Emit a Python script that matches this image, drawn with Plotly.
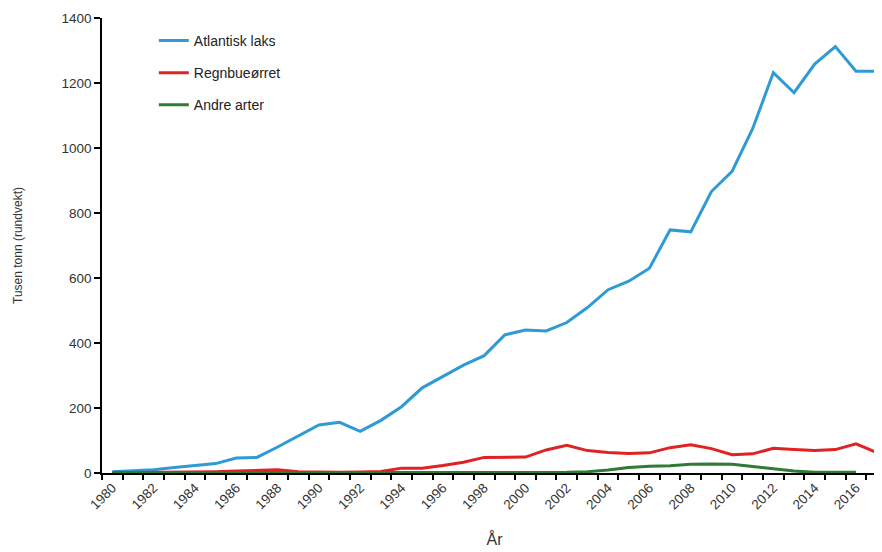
import plotly.graph_objects as go

years = list(range(1980, 2018))
atlantisk_laks = [4, 8, 10, 17, 22, 29, 46, 48, 80, 115, 148, 156, 128, 162, 204, 262, 297, 332, 361, 425, 440, 437, 463, 509, 564, 590, 630, 748, 742, 866, 928, 1060, 1232, 1170, 1258, 1312, 1236, 1236]
regnbueorret = [0.6, 1, 1.5, 2, 3, 4, 6, 9, 10, 4, 2, 2, 3, 5, 15, 15, 23, 33, 48, 48, 49, 71, 85, 69, 63, 60, 62, 78, 87, 75, 56, 59, 76, 72, 69, 72, 90, 63]
andre_arter = [1, 1, 1, 1, 1, 1, 1, 1, 1, 1, 1, 1, 1, 1, 1, 1, 1, 1, 1, 1, 1, 1, 2, 4, 9, 17, 21, 22, 27, 28, 27, 20, 13, 6, 2, 2, 2, None]

xtick_labels = [str(y) for y in range(1980, 2017, 2)]

fig = go.Figure()
series = [
    ("Atlantisk laks", atlantisk_laks, "#2f9ad3"),
    ("Regnbueørret", regnbueorret, "#e02222"),
    ("Andre arter", andre_arter, "#2f7a35"),
]
for name, vals, col in series:
    fig.add_trace(go.Scatter(x=years, y=vals, mode="lines", name=name,
                             legendgroup=name,
                             line=dict(color=col, width=3)))

fig.update_layout(
    width=882, height=552,
    margin=dict(l=94, r=3, t=10, b=87, autoexpand=False),
    paper_bgcolor="white", plot_bgcolor="white",
    font=dict(family="Liberation Sans, Arial, sans-serif", size=13, color="#333333"),
    legend=dict(x=0.066, y=0.985, xanchor="left", yanchor="top",
                bgcolor="rgba(0,0,0,0)", tracegroupgap=11,
                font=dict(size=14, color="#222222")),
    xaxis=dict(
        range=[1979.5, 2017.5], automargin=False,
        tickmode="array", tickvals=list(range(1980, 2017, 2)), ticktext=xtick_labels,
        tickangle=-45, ticks="", showgrid=False, zeroline=False,
        showline=True, linecolor="black", linewidth=1.5,
        tickfont=dict(size=13.5, color="#333333"),
        minor=dict(tick0=1979.5, dtick=1, ticks="outside", ticklen=5,
                   tickcolor="black", tickwidth=1.5, showgrid=False),
        title=dict(text="År", font=dict(size=16, color="#333333"), standoff=22),
    ),
    yaxis=dict(
        range=[0, 1400], tickvals=[0, 200, 400, 600, 800, 1000, 1200, 1400],
        automargin=False,
        ticks="outside", ticklen=6, tickwidth=1.5, tickcolor="black",
        showgrid=False, zeroline=False,
        showline=True, linecolor="black", linewidth=1.5,
        tickfont=dict(size=13.5, color="#333333"),
        title=dict(text="Tusen tonn (rundvekt)", font=dict(size=12, color="#333333"), standoff=36),
    ),
)

fig.write_html("out.html")
